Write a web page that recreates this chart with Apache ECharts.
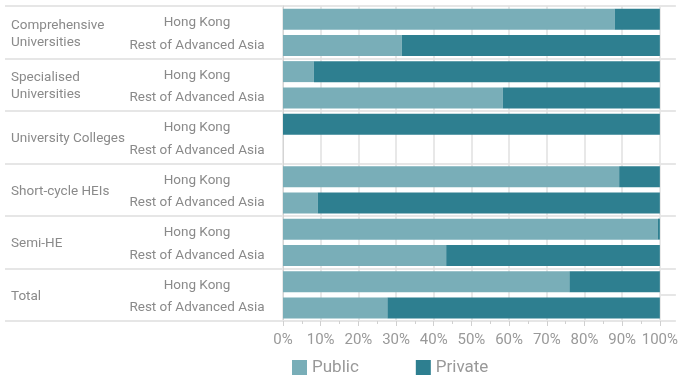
<!DOCTYPE html>
<html>
<head>
<meta charset="utf-8">
<script src="https://cdn.jsdelivr.net/npm/echarts@6/dist/echarts.min.js"></script>
<style>html,body{margin:0;padding:0;background:#fff}#c{width:681px;height:379px}</style>
</head>
<body>
<div id="c"></div>
<script>
const groups = ["Comprehensive\nUniversities", "Specialised\nUniversities", "University Colleges", "Short-cycle HEIs", "Semi-HE", "Total"];
const rows = ["Hong Kong", "Rest of Advanced Asia", "Hong Kong", "Rest of Advanced Asia", "Hong Kong", "Rest of Advanced Asia", "Hong Kong", "Rest of Advanced Asia", "Hong Kong", "Rest of Advanced Asia", "Hong Kong", "Rest of Advanced Asia"];
const publicShare = [88, 31.5, 8.2, 58.3, 0, null, 89.2, 9.2, 99.5, 43.3, 76, 27.7];
const privateShare = [12, 68.5, 91.8, 41.7, 100, null, 10.8, 90.8, 0.5, 56.7, 24, 72.3];
const xTicks = [0, 10, 20, 30, 40, 50, 60, 70, 80, 90, 100];

const chart = echarts.init(document.getElementById('c'), null, {renderer: 'canvas'});
const FONT = 'Roboto';
const SEP = '#e6e6e6';
chart.setOption({
  animation: false,
  textStyle: {fontFamily: FONT},
  grid: {left: 283, right: 19, top: 6, height: 315, containLabel: false},
  legend: {
    left: 287, top: 354, icon: 'rect', itemWidth: 15, itemHeight: 15, itemGap: 57,
    textStyle: {fontSize: 17, color: '#999', fontFamily: FONT},
    data: ['Public', 'Private']
  },
  xAxis: {
    type: 'value', min: xTicks[0], max: xTicks[xTicks.length - 1], interval: 10,
    axisLine: {show: true, lineStyle: {color: SEP, width: 2}},
    axisTick: {show: true, length: 5, lineStyle: {color: '#d0d0d0'}},
    minorTick: {show: true, splitNumber: 2, length: 3, lineStyle: {color: '#d0d0d0'}},
    splitLine: {show: true, lineStyle: {color: '#e0e0e0', width: 1.5}},
    axisLabel: {fontSize: 15, color: '#999', margin: 12, formatter: v => v + '%'}
  },
  yAxis: [
    {
      type: 'category', data: rows, inverse: true, position: 'left',
      axisLine: {show: false}, axisTick: {show: false},
      axisLabel: {
        fontSize: 13.5, color: '#8a8a8a', align: 'center', margin: 86, interval: 0,
        formatter: function (v, i) { return i % 2 === 0 ? '{hk|' + v + '}' : '{ra|' + v + '}'; },
        rich: {
          hk: {fontSize: 13.5, color: '#8a8a8a', fontFamily: FONT, padding: [7, 0, 0, 0]},
          ra: {fontSize: 13.5, color: '#8a8a8a', fontFamily: FONT, padding: [0, 0, 0, 0]}
        }
      }
    },
    {
      type: 'category', data: groups, inverse: true, position: 'left',
      axisLine: {show: true, lineStyle: {color: '#d4d4d4', width: 1}},
      axisTick: {show: true, length: 278, lineStyle: {color: SEP, width: 2}},
      splitLine: {show: true, lineStyle: {color: SEP, width: 2}},
      axisLabel: {
        fontSize: 13.5, color: '#8a8a8a', align: 'left', margin: 272, interval: 0,
        formatter: function (v) { return '{g|' + v + '}'; },
        rich: {g: {fontSize: 13.5, color: '#8a8a8a', fontFamily: FONT, lineHeight: 17, padding: [3, 0, 0, 0]}}
      }
    },
    {
      type: 'category', data: rows, inverse: true, position: 'right',
      axisLine: {show: false},
      axisTick: {show: true, length: 16, lineStyle: {color: SEP, width: 2},
        interval: function (i) { return i % 2 === 0 || i === 11; }},
      axisLabel: {show: false}
    }
  ],
  series: [
    {name: 'Public', type: 'bar', stack: 's', yAxisIndex: 0, barWidth: 21,
      itemStyle: {color: '#79aeb8'}, data: publicShare},
    {name: 'Private', type: 'bar', stack: 's', yAxisIndex: 0, barWidth: 21,
      itemStyle: {color: '#2e7f90'}, data: privateShare}
  ]
});
</script>
</body>
</html>
